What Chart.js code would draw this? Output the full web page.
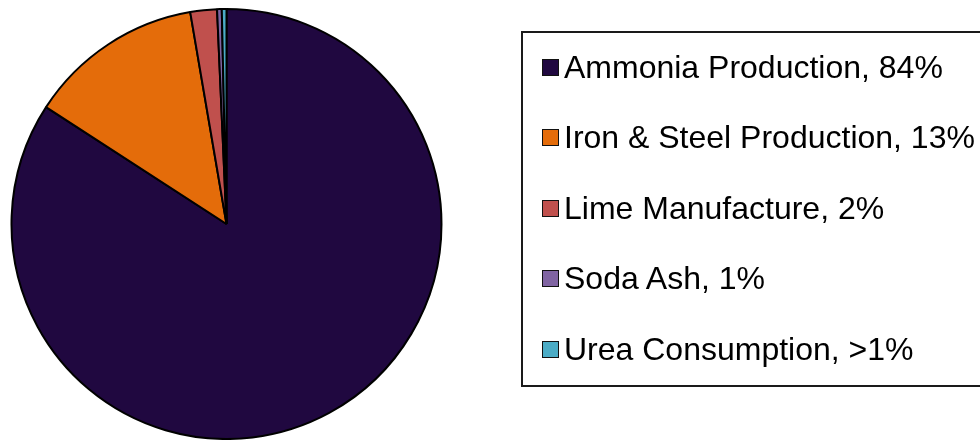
<!DOCTYPE html>
<html>
<head>
<meta charset="utf-8">
<script src="https://cdn.jsdelivr.net/npm/chart.js@4"></script>
<style>
    html, body { margin: 0; padding: 0; background: #fff; }
    #wrap { position: relative; width: 980px; height: 440px; overflow: hidden; }
    #legend {
        position: absolute; left: 521px; top: 31px; width: 480px; height: 352px;
        border: 2px solid #1a1a1a;
    }
    .item {
        position: absolute; left: 19px; height: 36px;
        display: flex; align-items: center;
        font-family: 'Liberation Sans', Arial, sans-serif; font-size: 32px; color: #000;
        white-space: nowrap;
    }
    .swatch {
        width: 15px; height: 15px; border: 1.5px solid #111; margin-right: 5px; flex: none;
    }
</style>
</head>
<body>
<div id="wrap">
    <canvas id="pie" width="980" height="440"></canvas>
    <div id="legend"></div>
</div>
<script>
'use strict';

// sources and their share
const sources = ['Ammonia Production', 'Iron & Steel Production', 'Lime Manufacture', 'Soda Ash', 'Urea Consumption'];
const shares = [84.15, 13.15, 2.0, 0.35, 0.35];
const shareLabels = ['84%', '13%', '2%', '1%', '>1%'];
const sliceColors = ['#200840', '#E46C0A', '#C0504D', '#8064A2', '#4BACC6'];

// legend built from the same arrays
const legendRowTop = 16;
const legendRowStep = 70.5;
document.getElementById('legend').innerHTML = sources.map((s, i) =>
    `<div class="item" style="top:${legendRowTop + i * legendRowStep}px">
        <span class="swatch" style="background:${sliceColors[i]}"></span>${s}, ${shareLabels[i]}</div>`
).join('');

new Chart(document.getElementById('pie'), {
    type: 'pie',
    data: {
        labels: sources,
        datasets: [{
            data: shares,
            backgroundColor: sliceColors,
            borderColor: '#000',
            borderWidth: 2,
        }],
    },
    options: {
        responsive: false,
        animation: false,
        layout: { padding: { left: 10, right: 537, top: 8, bottom: 0 } },
        plugins: {
            legend: { display: false },
            tooltip: { enabled: false },
        },
    },
});
</script>
</body>
</html>
